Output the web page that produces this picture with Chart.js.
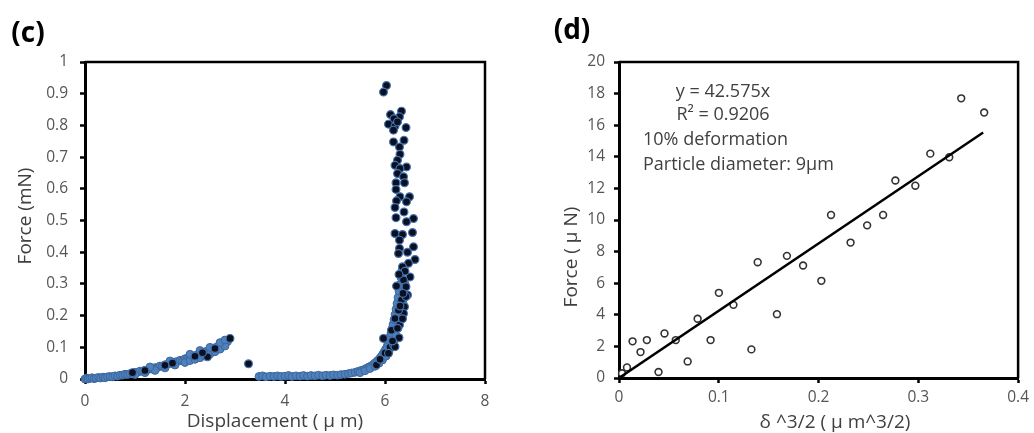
<!DOCTYPE html>
<html><head><meta charset="utf-8">
<script src="https://cdn.jsdelivr.net/npm/chart.js@4.4.1/dist/chart.umd.min.js"></script>
<style>
html,body{margin:0;padding:0;background:#fff;}
#wrap{position:relative;width:1034px;height:433px;overflow:hidden;font-family:'Open Sans',sans-serif;}
canvas{position:absolute;top:0;}
.t{position:absolute;white-space:nowrap;color:#404040;font-size:19px;line-height:1;transform:translate(-50%,-50%);}
.v{transform:translate(-50%,-50%) rotate(-90deg);}
.panel{position:absolute;font-weight:bold;font-size:28px;color:#000;line-height:1;transform:translate(-50%,-50%);}
.ann{position:absolute;white-space:nowrap;color:#404040;font-size:18px;line-height:1;transform:translateY(-50%);}
.annc{position:absolute;white-space:nowrap;color:#404040;font-size:18px;line-height:1;transform:translate(-50%,-50%);}
</style></head>
<body><div id="wrap">
<canvas id="c1" width="517" height="433" style="left:0"></canvas>
<canvas id="c2" width="517" height="433" style="left:517px"></canvas>
<div class="panel" style="left:28px;top:31px">(c)</div>
<div class="panel" style="left:572px;top:28px">(d)</div>
<div class="t v" style="left:24px;top:216px">Force (mN)</div>
<div class="t" style="left:275px;top:420px">Displacement ( μ m)</div>
<div class="t v" style="left:570px;top:257px">Force ( μ N)</div>
<div class="t" style="left:835px;top:421px">δ ^3/2 ( μ m^3/2)</div>
<div class="annc" style="left:723px;top:90px">y = 42.575x</div>
<div class="annc" style="left:723px;top:113px">R² = 0.9206</div>
<div class="ann" style="left:643px;top:138px">10% deformation</div>
<div class="ann" style="left:643px;top:163px">Particle diameter: 9μm</div>
</div>
<script>
// ---- tick labels ----
const cXTicks=[0,2,4,6,8];
const cYTicks=[0,0.1,0.2,0.3,0.4,0.5,0.6,0.7,0.8,0.9,1];
const dXTicks=[0,0.1,0.2,0.3,0.4];
const dYTicks=[0,2,4,6,8,10,12,14,16,18,20];

// ---- panel (c): dense (blue) points ----
const cBlueX=[0,0.03,0.06,0.1,0.14,0.18,0.22,0.27,0.31,0.36,0.4,0.45,0.5,0.55,0.6,0.65,0.7,0.75,0.8,0.85,0.9,0.95,1.0,1.05,1.1,1.15,1.2,1.25,1.3,1.35,1.4,1.45,1.5,1.55,1.6,1.65,1.7,1.75,1.8,1.85,1.9,1.95,2.0,2.05,2.1,2.15,2.2,2.25,2.3,2.35,2.4,2.45,2.5,2.55,2.6,2.65,2.7,2.75,2.8,2.85,
1.0,1.2,1.4,1.6,1.8,2.0,2.1,2.2,2.3,2.4,2.5,2.6,2.7,2.8,
1.3,1.7,2.1,2.3,2.5,2.7,2.8,
3.48,3.55,3.62,3.70,3.78,3.85,3.92,4.00,4.07,4.14,4.22,4.30,4.37,4.45,4.52,4.60,4.67,4.75,4.82,4.90,4.97,5.05,5.12,5.20,5.27,5.33,5.40,5.46,5.52,5.58,5.63,5.68,5.73,5.77,5.81,5.85,5.89,5.92,5.95,5.98,6.01,6.04,6.06,6.08,6.10,6.12,6.14,6.16,6.18,6.20,6.22,6.24,6.26,6.28,6.30,6.32,6.34,
5.5,5.6,5.7,5.8,5.88,5.95,6.02,6.08,6.13,6.18,6.22,6.26,6.3,6.33,6.36,6.38,6.4];
const cBlueY=[0,0.003,0,0.002,0.004,0.001,0.003,0.005,0.003,0.006,0.004,0.007,0.008,0.007,0.010,0.009,0.012,0.012,0.015,0.014,0.017,0.018,0.021,0.021,0.025,0.024,0.028,0.029,0.032,0.031,0.036,0.036,0.041,0.040,0.045,0.046,0.050,0.049,0.054,0.055,0.059,0.058,0.064,0.065,0.070,0.069,0.074,0.076,0.080,0.081,0.086,0.088,0.092,0.094,0.099,0.101,0.106,0.109,0.114,0.118,
0.014,0.020,0.027,0.035,0.044,0.052,0.058,0.062,0.067,0.072,0.079,0.086,0.094,0.104,
0.038,0.057,0.078,0.090,0.100,0.115,0.123,
0.008,0.010,0.007,0.009,0.008,0.010,0.008,0.009,0.011,0.008,0.010,0.009,0.011,0.009,0.011,0.010,0.012,0.010,0.012,0.011,0.013,0.012,0.014,0.015,0.017,0.019,0.021,0.024,0.027,0.030,0.034,0.038,0.042,0.047,0.052,0.058,0.064,0.070,0.077,0.085,0.093,0.102,0.112,0.122,0.133,0.145,0.158,0.172,0.187,0.203,0.220,0.238,0.257,0.277,0.298,0.320,0.343,
0.020,0.026,0.033,0.040,0.050,0.060,0.072,0.085,0.100,0.118,0.138,0.160,0.185,0.210,0.240,0.270,0.300];

// ---- panel (c): sparse (dark) points ----
const cDarkX=[2.90,3.27,2.45,2.20,2.35,2.60,1.60,1.75,1.20,0.95,5.83,5.90,6.00,6.10,6.17,5.97,
6.03,5.97,6.11,6.33,6.29,6.18,6.07,6.20,6.25,6.42,6.17,6.17,6.38,6.29,6.30,6.25,6.20,6.43,6.30,6.25,6.37,6.22,6.39,6.22,6.49,6.30,6.43,6.23,6.20,6.38,6.22,6.57,6.43,6.20,6.35,6.55,6.29,6.29,6.45,6.57,6.27,6.60,6.47,6.35,6.50,6.37,6.42,6.23,6.45,6.33,6.39,6.37,6.27,6.20,6.29,6.13,6.20,6.07,
6.40,6.28,6.42,6.36,6.30,6.35,6.25,6.28,6.15];
const cDarkY=[0.128,0.048,0.070,0.072,0.083,0.096,0.043,0.050,0.027,0.020,0.044,0.062,0.082,0.100,0.108,0.128,
0.926,0.905,0.834,0.845,0.827,0.821,0.804,0.797,0.811,0.793,0.785,0.748,0.753,0.732,0.709,0.690,0.674,0.669,0.664,0.648,0.638,0.619,0.619,0.598,0.575,0.575,0.559,0.562,0.541,0.527,0.509,0.506,0.496,0.459,0.456,0.462,0.438,0.412,0.400,0.417,0.396,0.377,0.365,0.354,0.322,0.312,0.291,0.293,0.265,0.249,0.228,0.207,0.217,0.191,0.170,0.154,0.102,0.081,
0.340,0.330,0.260,0.270,0.230,0.190,0.160,0.130,0.120];

// ---- panel (d) ----
const dX=[0.003,0.008,0.0136,0.0216,0.0279,0.0396,0.0456,0.0569,0.0688,0.0788,0.0918,0.1001,0.1147,0.1327,0.139,0.1583,0.1683,0.1845,0.2028,0.2125,0.2321,0.2487,0.2647,0.277,0.297,0.312,0.331,0.343,0.366];
const dY=[0.3,0.67,2.32,1.64,2.4,0.38,2.82,2.4,1.05,3.75,2.4,5.39,4.63,1.81,7.33,4.04,7.73,7.12,6.15,10.32,8.57,9.66,10.32,12.5,12.17,14.2,13.97,17.7,16.8];
const trendX=[0,0.365];
const trendY=[0,15.54];

function pts(xs,ys){return xs.map((x,i)=>({x:x,y:ys[i]}));}
function fmt(v){return String(Math.round(v*100)/100);}

Chart.defaults.font.family="'Open Sans', sans-serif";
Chart.defaults.animation=false;

const boxPlugin={id:'box',afterDraw(chart){const a=chart.chartArea,ctx=chart.ctx;ctx.save();ctx.strokeStyle='#000';ctx.lineWidth=2.5;ctx.beginPath();ctx.moveTo(a.left,a.top);ctx.lineTo(a.right,a.top);ctx.lineTo(a.right,a.bottom);ctx.stroke();ctx.restore();}};

function axis(tickArr,sizeKey,size,pad){
  return {type:'linear',min:tickArr[0],max:tickArr[tickArr.length-1],
    afterBuildTicks:s=>{s.ticks=tickArr.map(v=>({value:v}));},
    afterFit:s=>{s[sizeKey]=size;},
    ticks:{color:'#555555',font:{size:15.5},padding:pad,callback:v=>fmt(v),maxRotation:0,autoSkip:false},
    grid:{drawOnChartArea:false,drawTicks:true,tickLength:5,tickColor:'#000',tickWidth:2.5},
    border:{display:true,color:'#000',width:3},
    title:{display:false}};
}
const common={responsive:false,events:[],plugins:{legend:{display:false},tooltip:{enabled:false}}};

new Chart(document.getElementById('c1'),{
  type:'scatter',
  data:{datasets:[
    {data:pts(cDarkX,cDarkY),pointRadius:3.9,pointBackgroundColor:'#0b1020',pointBorderColor:'#4473b0',pointBorderWidth:1.2,clip:false},
    {data:pts(cBlueX,cBlueY),pointRadius:3.9,pointBackgroundColor:'#4f81bd',pointBorderColor:'#3c679c',pointBorderWidth:1,clip:false}
  ]},
  options:Object.assign({},common,{
    layout:{padding:{left:25,right:32,top:62,bottom:14}},
    scales:{x:axis(cXTicks,'height',40,8),y:axis(cYTicks,'width',60,12)}
  }),
  plugins:[boxPlugin]
});

new Chart(document.getElementById('c2'),{
  type:'scatter',
  data:{datasets:[
    {data:pts(trendX,trendY),showLine:true,borderColor:'#000',borderWidth:2.5,pointRadius:0,fill:false,tension:0},
    {data:pts(dX,dY),pointRadius:3.4,pointBackgroundColor:'#fff',pointBorderColor:'#333',pointBorderWidth:1.6,clip:false}
  ]},
  options:Object.assign({},common,{
    layout:{padding:{left:42,right:14,top:62,bottom:15}},
    scales:{x:axis(dXTicks,'height',40,5),y:axis(dYTicks,'width',60,9)}
  }),
  plugins:[boxPlugin]
});
</script>
</body></html>
